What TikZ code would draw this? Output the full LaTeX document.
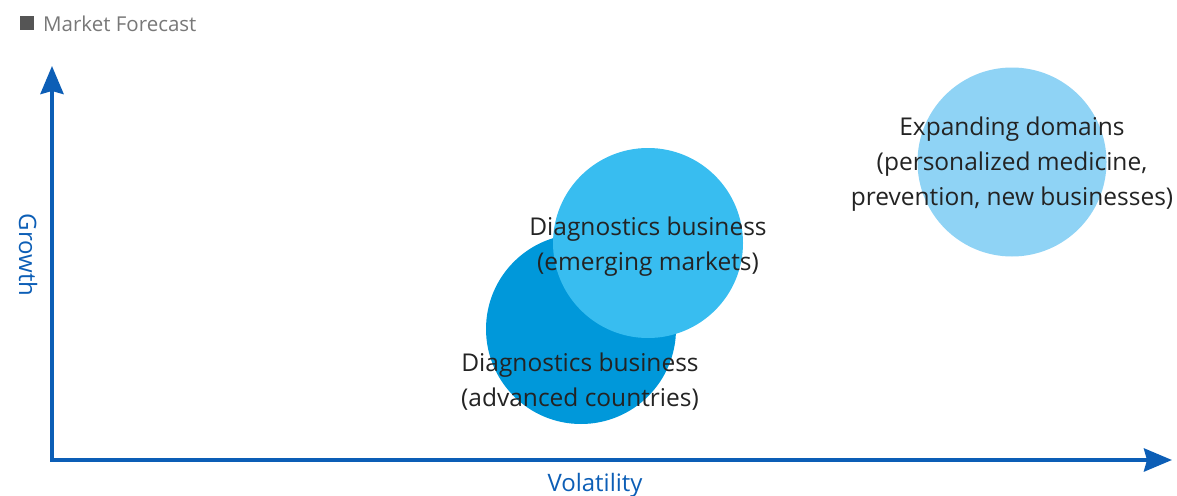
\documentclass[tikz,border=0pt]{standalone}
\usepackage{fontspec}
\setmainfont{Open Sans}
\usetikzlibrary{arrows.meta}
\definecolor{axisblue}{RGB}{12,94,182}
\definecolor{cadv}{RGB}{0,152,218}
\definecolor{cemg}{RGB}{56,189,240}
\definecolor{cexp}{RGB}{143,211,245}
\definecolor{titlegray}{RGB}{120,120,120}
\definecolor{boxgray}{RGB}{85,85,85}
\definecolor{txt}{RGB}{35,35,35}
\tikzset{
  axisline/.style={draw=axisblue, line width=4pt, -{Stealth[length=28pt,width=23pt,inset=3pt]}},
  bubble/.style={circle, inner sep=0pt, draw=none},
  bubbletext/.style={align=center, text=txt, font=\fontsize{24.5}{35}\selectfont, inner sep=0pt},
  axislabel/.style={text=axisblue, font=\fontsize{24}{26}\selectfont, inner sep=0pt},
}
\begin{document}
\begin{tikzpicture}[x=1pt,y=-1pt]
\useasboundingbox (0,0) rectangle (1177,495);
% title
\node[fill=boxgray, minimum size=14pt, inner sep=0pt] (tbox) at (27,23) {};
\node[anchor=west, text=titlegray, font=\fontsize{20.5}{22}\selectfont, inner sep=0pt] (title) at (43,24) {Market Forecast};
% axes
\coordinate (origin) at (52,460);
\coordinate (ytip) at (52,66);
\coordinate (xtip) at (1172,460);
\draw[axisline] ([yshift=2pt]origin) -- (ytip);
\draw[axisline] ([xshift=-2pt]origin) -- (xtip);
\node[axislabel, rotate=-90] (growth) at (28,255) {Growth};
\node[axislabel] (vol) at (595,485) {Volatility};
% bubbles
\node[bubble, fill=cadv, minimum size=190pt] (adv) at (581,329) {};
\node[bubble, fill=cemg, minimum size=190pt] (emg) at (648,243) {};
\node[bubble, fill=cexp, minimum size=189pt] (exp) at (1012,162) {};
% texts
\node[bubbletext] (emgt) at (648,247) {Diagnostics business\\(emerging markets)};
\node[bubbletext] (advt) at (580,382) {Diagnostics business\\(advanced countries)};
\node[bubbletext] (expt) at (1012,164.5) {Expanding domains\\(personalized medicine,\\prevention, new businesses)};
\end{tikzpicture}
\end{document}
